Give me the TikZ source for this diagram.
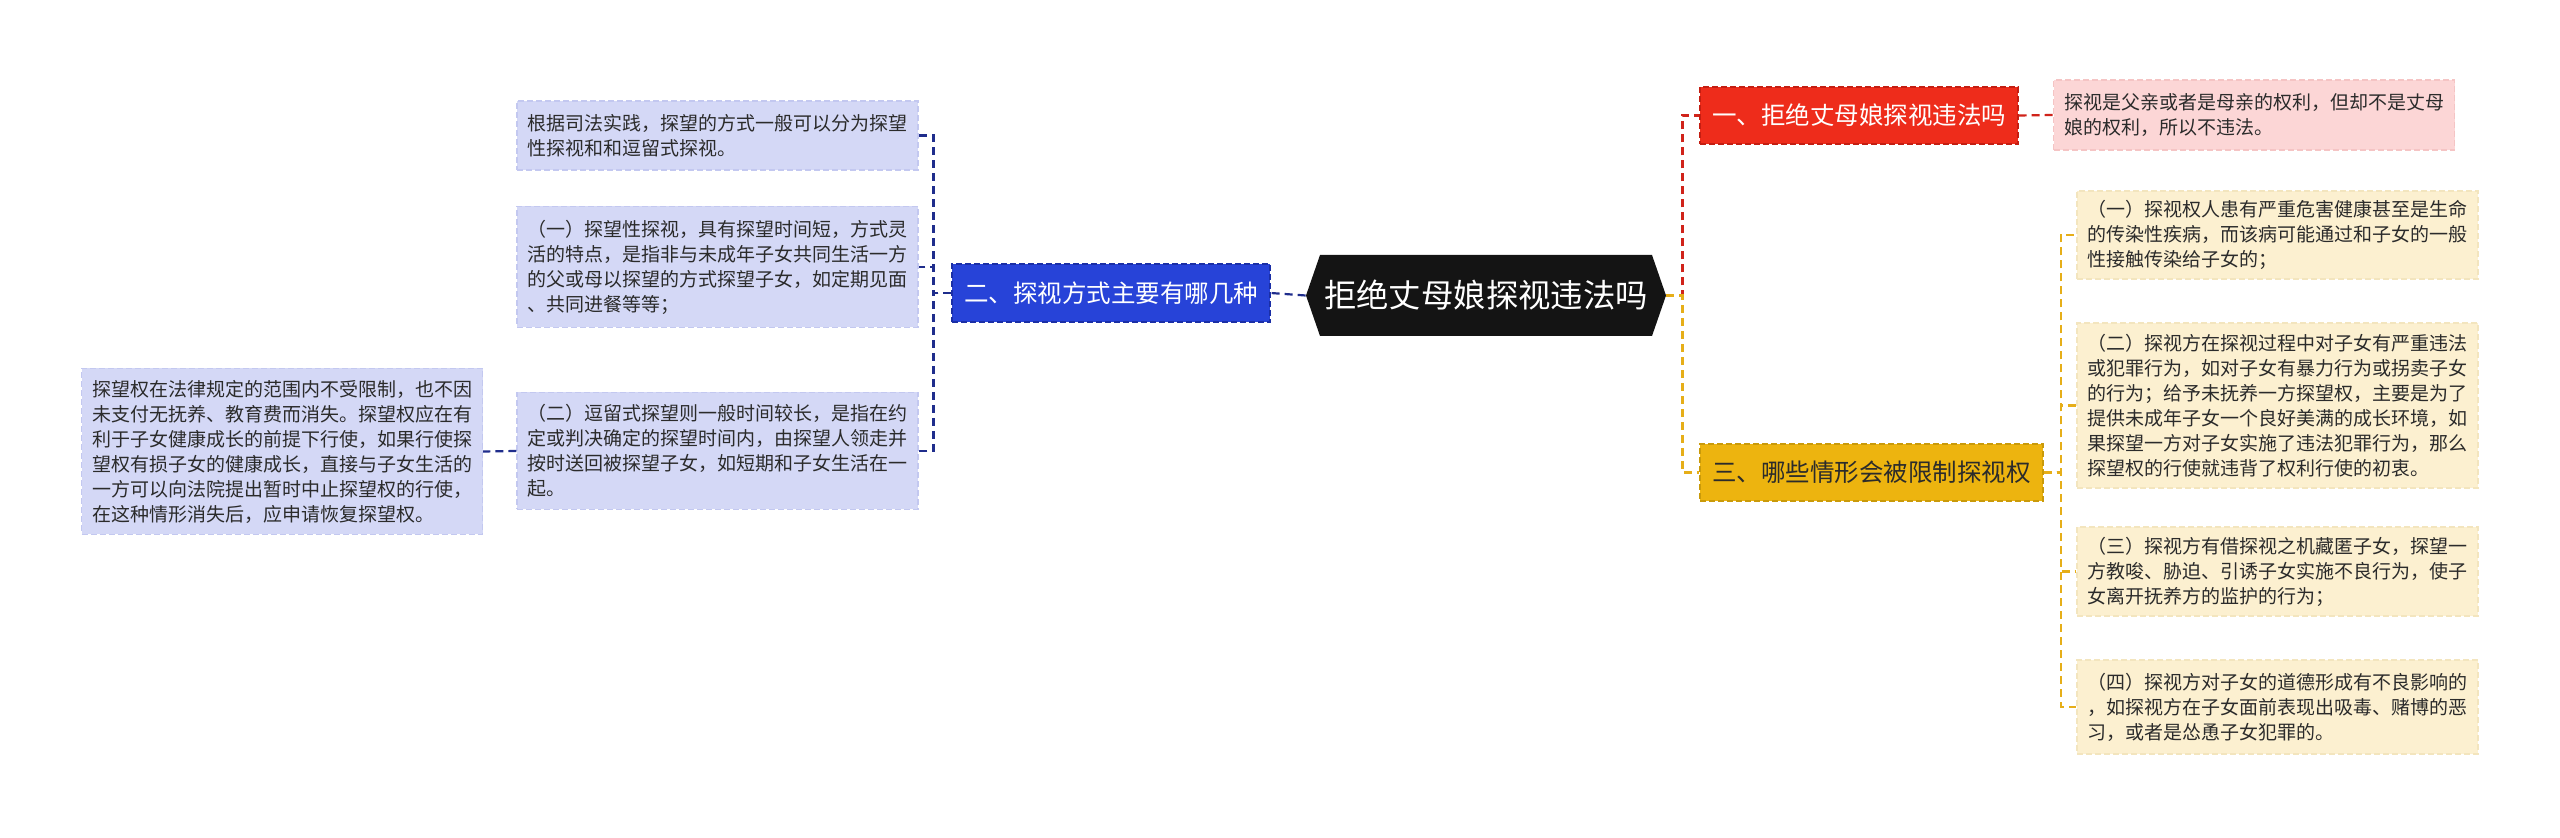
\documentclass[tikz,border=0pt]{standalone}
\usepackage{fontspec}
\newfontfamily\cjk{Noto Sans CJK SC}
\definecolor{cfill}{HTML}{141414}
\definecolor{bmfill}{HTML}{2743D8}
\definecolor{bmline}{HTML}{1B2FA6}
\definecolor{blfill}{HTML}{D4D8F6}
\definecolor{blline}{HTML}{C3C8F0}
\definecolor{bconn}{HTML}{1F2D8C}
\definecolor{rmfill}{HTML}{EE2C1B}
\definecolor{rmline}{HTML}{C41E12}
\definecolor{rlfill}{HTML}{FCD6D6}
\definecolor{rlline}{HTML}{F5C4C4}
\definecolor{rconn}{HTML}{D0231A}
\definecolor{ymfill}{HTML}{EDB40F}
\definecolor{ymline}{HTML}{C99A0A}
\definecolor{ylfill}{HTML}{FCF0D0}
\definecolor{ylline}{HTML}{F3E5BE}
\definecolor{yconn}{HTML}{E6AE18}
\definecolor{txt}{HTML}{2B2B2B}
\tikzset{
  boxdash/.style={dash pattern=on 3pt off 1.5pt, line width=0.6pt},
  mainbox/.style={boxdash, font=\cjk\fontsize{12.25pt}{14pt}\selectfont, inner sep=0pt, anchor=center},
  leafbox/.style={boxdash, font=\cjk\fontsize{9.5pt}{12.5pt}\selectfont, text=txt, align=left,
    text width=190pt, inner xsep=5.25pt, inner ysep=0pt, anchor=center, minimum width=200.5pt},
  bleaf/.style={leafbox, fill=blfill, draw=blline},
  rleaf/.style={leafbox, fill=rlfill, draw=rlline},
  yleaf/.style={leafbox, fill=ylfill, draw=ylline},
  conn/.style={line width=1.1pt, dash pattern=on 4pt off 2.5pt},
}
\begin{document}
\begin{tikzpicture}[x=0.5pt,y=-0.5pt]
\useasboundingbox (0,0) rectangle (2560,838);
% central topic
\fill[cfill] (1306,295.5) -- (1320,255) -- (1652,255) -- (1666,295.5) -- (1652,336) -- (1320,336) -- cycle;
\node[font=\cjk\fontsize{16.2pt}{18pt}\selectfont, text=white, inner sep=0pt, minimum width=180pt, minimum height=40.5pt] (c) at (1486,295.5) {拒绝丈母娘探视违法吗};
% main branches
\node[mainbox, fill=bmfill, draw=bmline, text=white, minimum width=159pt, minimum height=29pt] (bm) at (1111,293) {二、探视方式主要有哪几种};
\node[mainbox, fill=rmfill, draw=rmline, text=white, minimum width=159pt, minimum height=28.5pt] (rm) at (1859,115.5) {一、拒绝丈母娘探视违法吗};
\node[mainbox, fill=ymfill, draw=ymline, text=txt, minimum width=171.5pt, minimum height=28.5pt] (ym) at (1871.5,472.5) {三、哪些情形会被限制探视权};
% blue leaves
\node[bleaf, minimum height=34.5pt] (bl1) at (717.5,135.5) {根据司法实践，探望的方式一般可以分为探望\\性探视和和逗留式探视。};
\node[bleaf, minimum height=60.5pt] (bl2) at (717.5,267) {（一）探望性探视，具有探望时间短，方式灵\\活的特点，是指非与未成年子女共同生活一方\\的父或母以探望的方式探望子女，如定期见面\\、共同进餐等等；};
\node[bleaf, minimum height=58.5pt] (bl3) at (717.5,451) {（二）逗留式探望则一般时间较长，是指在约\\定或判决确定的探望时间内，由探望人领走并\\按时送回被探望子女，如短期和子女生活在一\\起。};
\node[bleaf, minimum height=83pt, minimum width=200pt] (fl) at (282,451.5) {探望权在法律规定的范围内不受限制，也不因\\未支付无抚养、教育费而消失。探望权应在有\\利于子女健康成长的前提下行使，如果行使探\\望权有损子女的健康成长，直接与子女生活的\\一方可以向法院提出暂时中止探望权的行使，\\在这种情形消失后，应申请恢复探望权。};
% red leaf
\node[rleaf, minimum height=35pt, minimum width=200pt] (rl) at (2254,115) {探视是父亲或者是母亲的权利，但却不是丈母\\娘的权利，所以不违法。};
% yellow leaves
\node[yleaf, minimum height=44pt] (yl1) at (2277.5,235) {（一）探视权人患有严重危害健康甚至是生命\\的传染性疾病，而该病可能通过和子女的一般\\性接触传染给子女的；};
\node[yleaf, minimum height=82.5pt] (yl2) at (2277.5,405.5) {（二）探视方在探视过程中对子女有严重违法\\或犯罪行为，如对子女有暴力行为或拐卖子女\\的行为；给予未抚养一方探望权，主要是为了\\提供未成年子女一个良好美满的成长环境，如\\果探望一方对子女实施了违法犯罪行为，那么\\探望权的行使就违背了权利行使的初衷。};
\node[yleaf, minimum height=44.5pt] (yl3) at (2277.5,571.5) {（三）探视方有借探视之机藏匿子女，探望一\\方教唆、胁迫、引诱子女实施不良行为，使子\\女离开抚养方的监护的行为；};
\node[yleaf, minimum height=47pt] (yl4) at (2277.5,707) {（四）探视方对子女的道德形成有不良影响的\\，如探视方在子女面前表现出吸毒、赌博的恶\\习，或者是怂恿子女犯罪的。};
% connectors
\draw[conn, bconn] (c.west) -- (bm.east);
\draw[conn, bconn] (bm.west) -- ++(-18,0) |- (bl1.east);
\draw[conn, bconn] (bm.west) -- ++(-18,0) |- (bl2.east);
\draw[conn, bconn] (bm.west) -- ++(-18,0) |- (bl3.east);
\draw[conn, bconn] (bl3.west) -- (fl.east);
\draw[conn, rconn] (c.east) -- ++(16,0) |- (rm.west);
\draw[conn, yconn] (c.east) -- ++(16,0) |- (ym.west);
\draw[conn, rconn] (rm.east) -- (rl.west);
\draw[conn, yconn] (ym.east) -- ++(17,0) |- (yl1.west);
\draw[conn, yconn] (ym.east) -- ++(17,0) |- (yl2.west);
\draw[conn, yconn] (ym.east) -- ++(17,0) |- (yl3.west);
\draw[conn, yconn] (ym.east) -- ++(17,0) |- (yl4.west);
\end{tikzpicture}
\end{document}
